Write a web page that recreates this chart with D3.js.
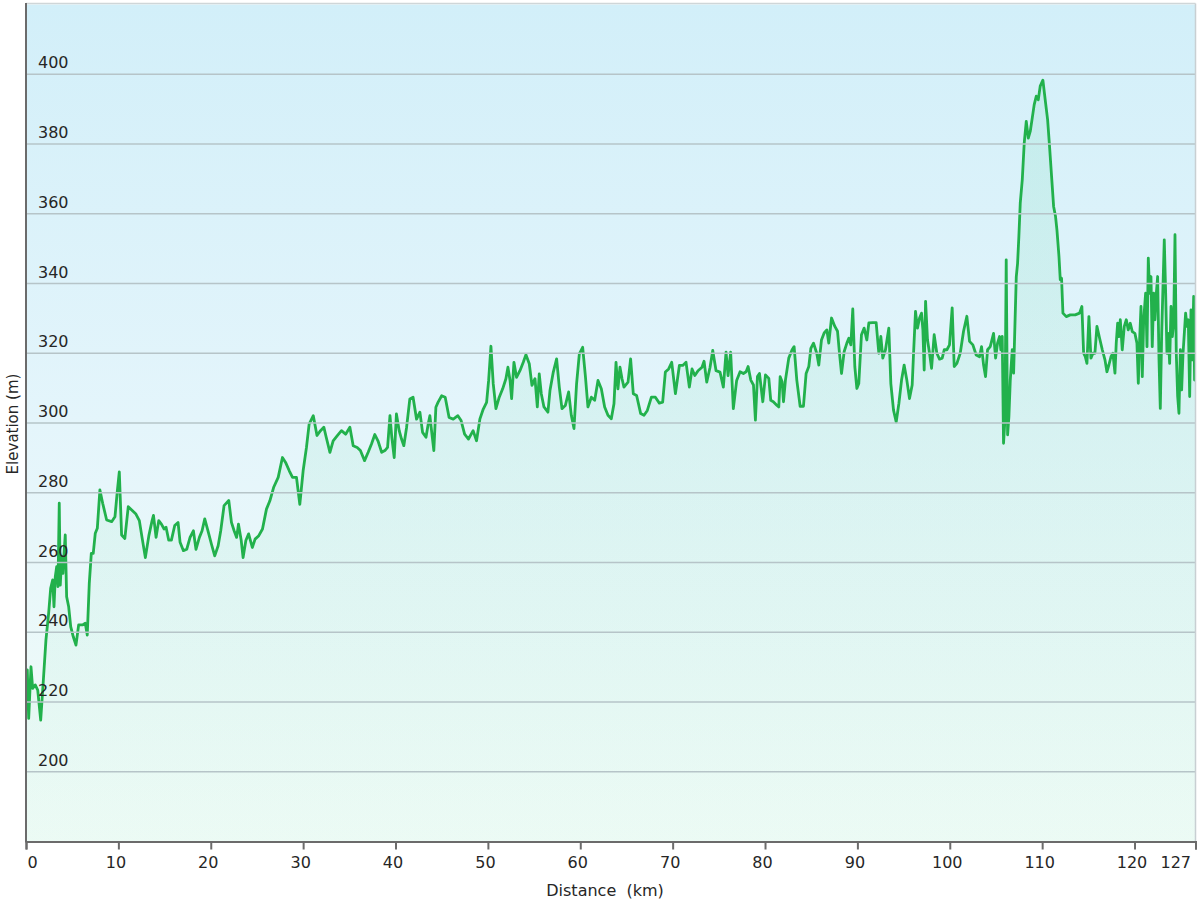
<!DOCTYPE html>
<html><head><meta charset="utf-8">
<script src="https://cdn.jsdelivr.net/npm/d3@7/dist/d3.min.js"></script>
<style>body{margin:0;background:#fff}text{font-family:"DejaVu Sans",Verdana,sans-serif}</style>
</head><body><svg id="c" width="1200" height="900"></svg>
<script>
const distanceKm = [
0.0,0.14,0.29,0.54,0.72,1.0,1.27,1.59,1.88,2.16,2.45,2.67,2.89,3.03,3.17,3.32,3.46,3.6,3.71,3.86,4.0,4.14,4.25,4.4,4.62,4.84,5.12,5.41,5.7,6.13,6.42,6.63,6.85,7.07,7.28,7.5,7.72,8.0,8.3,8.73,9.27,9.63,9.88,10.1,10.35,10.7,11.07,
11.5,11.9,12.27,12.56,12.92,13.3,13.65,13.8,14.08,14.37,14.66,14.95,15.16,15.45,15.74,16.1,16.46,16.68,17.04,17.4,17.76,18.12,18.4,18.77,19.06,19.35,19.7,20.07,20.43,20.8,21.08,21.44,21.95,22.24,22.53,22.8,23.0,23.3,23.5,23.8,24.1,24.5,24.8,25.2,
25.6,26.03,26.4,26.8,27.3,27.76,28.1,28.5,28.85,29.28,29.64,30.0,30.36,30.65,31.1,31.5,31.88,32.24,32.5,32.9,33.25,33.7,34.15,34.6,35.06,35.42,35.85,36.2,36.65,37.04,37.4,37.76,38.1,38.5,38.85,39.14,39.4,39.6,39.86,40.1,40.4,40.65,40.9,41.2,41.55,41.9,42.28,42.64,42.93,43.3,43.54,43.72,43.9,44.15,44.37,44.6,45.0,45.38,45.8,46.25,46.75,47.1,47.48,47.9,48.4,48.77,49.13,49.5,49.86,50.08,50.33,
50.58,50.87,51.23,51.6,51.95,52.17,52.4,52.57,52.82,53.1,53.47,53.83,54.12,54.48,54.77,55.1,55.35,55.56,55.78,56.07,56.5,56.72,57.08,57.44,57.73,58.02,58.38,58.74,59.03,59.32,59.6,59.9,60.26,60.55,60.83,61.2,61.56,61.92,62.28,62.64,63.0,63.36,63.65,63.87,64.08,64.3,64.52,64.73,65.17,65.45,65.74,66.1,66.54,66.9,67.26,67.7,68.13,68.56,68.92,69.21,69.57,69.9,70.3,70.73,71.09,71.45,71.81,72.1,72.4,72.75,73.18,73.4,73.69,74.05,74.34,74.7,75.13,75.49,75.78,76.0,76.28,76.57,76.93,
77.3,77.66,77.95,78.17,78.46,78.75,78.96,79.18,79.4,79.76,80.05,80.41,80.62,80.9,81.27,81.49,81.64,81.85,82.0,82.21,82.57,82.93,83.15,83.44,83.8,84.16,84.45,84.74,84.96,85.25,85.6,85.82,86.11,86.4,86.69,86.9,87.2,87.56,87.85,88.06,88.28,88.57,88.86,89.07,89.29,89.5,89.72,89.94,90.15,90.44,90.73,91.02,91.24,91.67,92.03,92.32,92.54,92.75,93.04,93.4,93.62,93.91,94.2,94.49,94.78,95.06,95.35,95.64,95.93,96.08,96.29,96.5,96.73,96.94,97.09,97.23,97.38,97.59,97.81,98.03,98.31,98.6,98.89,99.18,99.4,99.69,99.97,100.26,100.48,100.77,101.13,101.49,101.85,102.14,102.5,102.86,103.22,103.44,103.66,103.87,104.09,
104.38,104.74,104.96,105.17,105.39,105.53,105.68,105.82,105.97,106.11,106.26,106.4,106.55,106.76,106.91,107.05,107.2,107.34,107.48,107.63,107.85,108.06,108.28,108.5,108.71,108.93,109.14,109.36,109.58,109.79,110.08,110.37,110.59,110.8,111.02,111.24,111.45,111.6,111.82,111.96,112.1,112.25,112.61,113.04,113.58,114.05,114.3,114.49,114.67,114.85,115.06,115.28,115.5,115.71,115.93,116.22,116.51,116.8,117.01,117.23,117.45,117.66,117.88,118.02,118.17,118.31,118.46,118.67,118.89,119.11,119.32,119.54,119.76,120.04,120.26,120.41,120.55,120.7,120.84,120.99,121.2,121.35,121.49,121.64,121.78,121.92,122.07,122.21,122.36,122.5,122.65,122.79,122.94,123.08,123.22,123.37,123.51,123.66,123.8,123.95,124.09,124.24,124.38,124.52,124.67,124.81,124.96,125.1,125.25,125.39,125.53,125.68,125.82,125.97,126.11,126.26,126.4,126.5,126.6
];
const elevationM = [
225,229.2,215.3,230.1,223.9,224.9,223.4,214.8,226.3,237.8,245.4,252.6,255,247.3,255.9,258.8,253.1,277,253.5,261.7,256.9,263.6,267.9,250.2,247.3,241.6,238.7,236.3,242.1,242.1,242.6,239.2,254,262.6,262.6,268.4,269.8,280.8,277,272.2,271.7,273.1,280.3,286,267.9,266.9,276,
274.9,273.9,272,267.2,261.4,267.7,272,273.5,267.2,272,271,269.6,270.1,266.4,266.4,270.6,271.5,265.8,263.4,263.8,267.2,269.1,263.8,267.2,269.1,272.5,269.1,265.3,261.9,264.8,269.1,276.3,277.8,271.5,269.1,267.2,271,266.3,261.4,266.3,268.2,264.3,266.7,267.7,
269.6,275.3,277.7,281.5,284.4,290.1,288.7,286.3,284.4,284.4,276.7,286.3,293,299.7,302.1,296.4,297.8,298.8,295.9,291.6,294.9,296.4,297.8,296.8,298.8,293.5,293,292.1,289.2,291.6,294,296.7,294.9,291.6,292.1,293,302.1,295.9,290.1,302.6,297.8,295.4,293.5,298.8,306.9,307.4,301.1,303.1,297.3,295.9,299.7,302.1,297.8,292.1,304.5,305.9,307.8,307.4,301.6,301.1,302.1,300.7,296.8,295.4,297.8,294.9,301.1,304,305.9,312.2,322,
311.2,304.1,307.4,309.8,312.7,316,312.2,307,317.4,313.1,315,317.4,319.6,317,310.8,312.7,304.6,314.1,308.4,304.6,303.1,309.3,314.6,318.4,310.3,304.1,305,308.9,302.2,298.4,311.2,319.8,321.7,313.6,304.6,307.4,306.5,312.2,309.8,304.6,302.2,301.2,305.5,317.4,309.8,316,312.7,310.3,311.7,318.4,308.4,307.9,302.7,302.2,303.6,307.4,307.4,305.7,306,314.6,315.5,317.4,308.4,316.5,316.5,317.4,310.3,315.5,313.6,315,316,317.7,311.7,316,320.8,315,314.6,310.3,320.3,313.6,320.3,304.1,312.2,
314.7,314.2,314.7,316.2,312.3,310.9,300.8,313.3,314.2,306.1,313.8,312.8,306.5,306.1,305.1,304.6,313.3,311.8,306.1,312.3,318.6,321,321.9,312.3,304.8,304.8,314.2,316.2,321.4,322.9,320,316.6,323.8,325.8,326.7,322.9,330.1,327.7,326.3,320,314.2,320.5,322.9,324.3,322.4,332.7,316.2,309.9,311.3,325.3,327.2,323.8,328.7,328.8,328.8,320,324.8,318.6,321,327.2,311.3,303.7,300.3,305.6,312.3,316.6,312.3,307,310.9,320,332,327.2,330.1,331.5,326.7,315.2,334.9,323.8,320,315.7,325.3,320,318.3,318.6,321,321,322.4,333,316.2,317.1,320,326.3,330.6,323.4,322.4,319.5,319,321.9,316.6,313.3,321,
321.9,325.7,318.6,322.9,324.8,321,324.8,294.2,300.9,346.8,296.6,301.8,312.3,321,314.3,327.7,342,345.8,353.5,363.1,369.8,380.3,386.5,381.7,383.6,387.5,391.3,393.7,392.7,396.6,398.3,391.8,387,379.3,370.7,362.1,359.2,355.4,347.8,341.1,341.5,331.5,330.5,331,331,331.5,333.4,320,319,317.1,330.5,318.6,320,320,327.7,324.3,321,318.1,314.7,316.7,319,320,314.3,322.9,328.6,324.8,329.6,321,327.7,329.6,326.7,328.6,326.2,325.7,322.9,311.4,323.8,333.4,313.3,329.6,337.2,321.9,347.3,337.2,342,321.9,337.2,329.6,337.2,342,318.1,304.2,325.7,339.1,352.5,337.2,320,325.7,317.1,333.4,324.8,328.6,354,320,307.6,302.8,321,309.5,320,325.7,331.5,327.7,329.6,307.6,332.4,318.1,336.3,312.3,336
];
const xTickValues = [0,10,20,30,40,50,60,70,80,90,100,110,120];
const xEndTick = 126.6;
const xEndLabel = "127";
const yTickValues = [200,220,240,260,280,300,320,340,360,380,400];
const xTitle = "Distance  (km)";
const yTitle = "Elevation (m)";

const svg = d3.select("#c");
const L = 26, R = 1195.5, T = 4.5, B = 841.5;
const x = d3.scaleLinear().domain([0, xEndTick]).range([L, R]);
const y = d3.scaleLinear().domain([180, 420]).range([B, T]);
const pts = distanceKm.map((d, i) => ({d, e: elevationM[i]}));

const defs = svg.append("defs");
const bg = defs.append("linearGradient").attr("id","bg").attr("x1",0).attr("y1",0).attr("x2",0).attr("y2",1);
bg.append("stop").attr("offset","0%").attr("stop-color","#d2eff9");
bg.append("stop").attr("offset","50%").attr("stop-color","#e4f5fb");
bg.append("stop").attr("offset","100%").attr("stop-color","#f1fcf8");
const ag = defs.append("linearGradient").attr("id","ag").attr("x1",0).attr("y1",0).attr("x2",0).attr("y2",1);
ag.append("stop").attr("offset","0%").attr("stop-color","#3fcf8c").attr("stop-opacity",0.12);
ag.append("stop").attr("offset","100%").attr("stop-color","#3fcf7c").attr("stop-opacity",0.03);
defs.append("clipPath").attr("id","clip").append("rect").attr("x",L).attr("y",T).attr("width",R-L).attr("height",B-T);

svg.append("rect").attr("x",L).attr("y",T).attr("width",R-L).attr("height",B-T).attr("fill","url(#bg)");

const g = svg.append("g").attr("clip-path","url(#clip)");
g.append("path").datum(pts)
  .attr("d", d3.area().x(p=>x(p.d)).y0(B).y1(p=>y(p.e)))
  .attr("fill","url(#ag)");

// grid
svg.append("g").selectAll("line").data(yTickValues).join("line")
  .attr("x1",L).attr("x2",R).attr("y1",v=>y(v)).attr("y2",v=>y(v))
  .attr("stroke","#b6c4c8").attr("stroke-width",1.6);

g.append("path").datum(pts)
  .attr("d", d3.line().x(p=>x(p.d)).y(p=>y(p.e)))
  .attr("fill","none").attr("stroke","#22b14c").attr("stroke-width",2.8).attr("stroke-linejoin","round");

// border
svg.append("line").attr("x1",L).attr("x2",R).attr("y1",T-1).attr("y2",T-1).attr("stroke","#cfd6d8").attr("stroke-width",1.5);
svg.append("line").attr("x1",R).attr("x2",R).attr("y1",T-1).attr("y2",B).attr("stroke","#c8cfd2").attr("stroke-width",1.5);

// y labels
svg.append("g").selectAll("text").data(yTickValues).join("text")
  .attr("x",38).attr("y",v=>y(v)-6).attr("font-size",16).attr("fill","#262626")
  .text(v=>v);

// axes
svg.append("line").attr("x1",L).attr("x2",L).attr("y1",T-1.5).attr("y2",B+1).attr("stroke","#6b6b6b").attr("stroke-width",2);
const xa = svg.append("g").attr("transform",`translate(0,${B})`)
  .call(d3.axisBottom(x).tickValues(xTickValues.concat([xEndTick])).tickSize(8).tickFormat((v,i)=> i===xTickValues.length ? xEndLabel : v));
xa.select(".domain").attr("stroke","#6b6b6b").attr("stroke-width",2);
xa.selectAll(".tick line").attr("stroke","#6b6b6b").attr("stroke-width",2);
xa.selectAll(".tick text").attr("font-size",16).attr("fill","#262626").attr("font-family","DejaVu Sans").attr("dy","0").attr("y",26).attr("dx",-3);
xa.selectAll(".tick text").filter((v,i)=>i===0).attr("text-anchor","start").attr("dx",1);
xa.selectAll(".tick text").filter((v,i)=>i===xTickValues.length).attr("text-anchor","end").attr("dx",-5);

svg.append("text").attr("x",605).attr("y",896).attr("text-anchor","middle").attr("font-size",16)
  .attr("fill","#262626").style("white-space","pre").text(xTitle);
svg.append("text").attr("transform","translate(18,424) rotate(-90)").attr("text-anchor","middle")
  .attr("font-size",15).attr("fill","#262626").text(yTitle);
</script></body></html>
